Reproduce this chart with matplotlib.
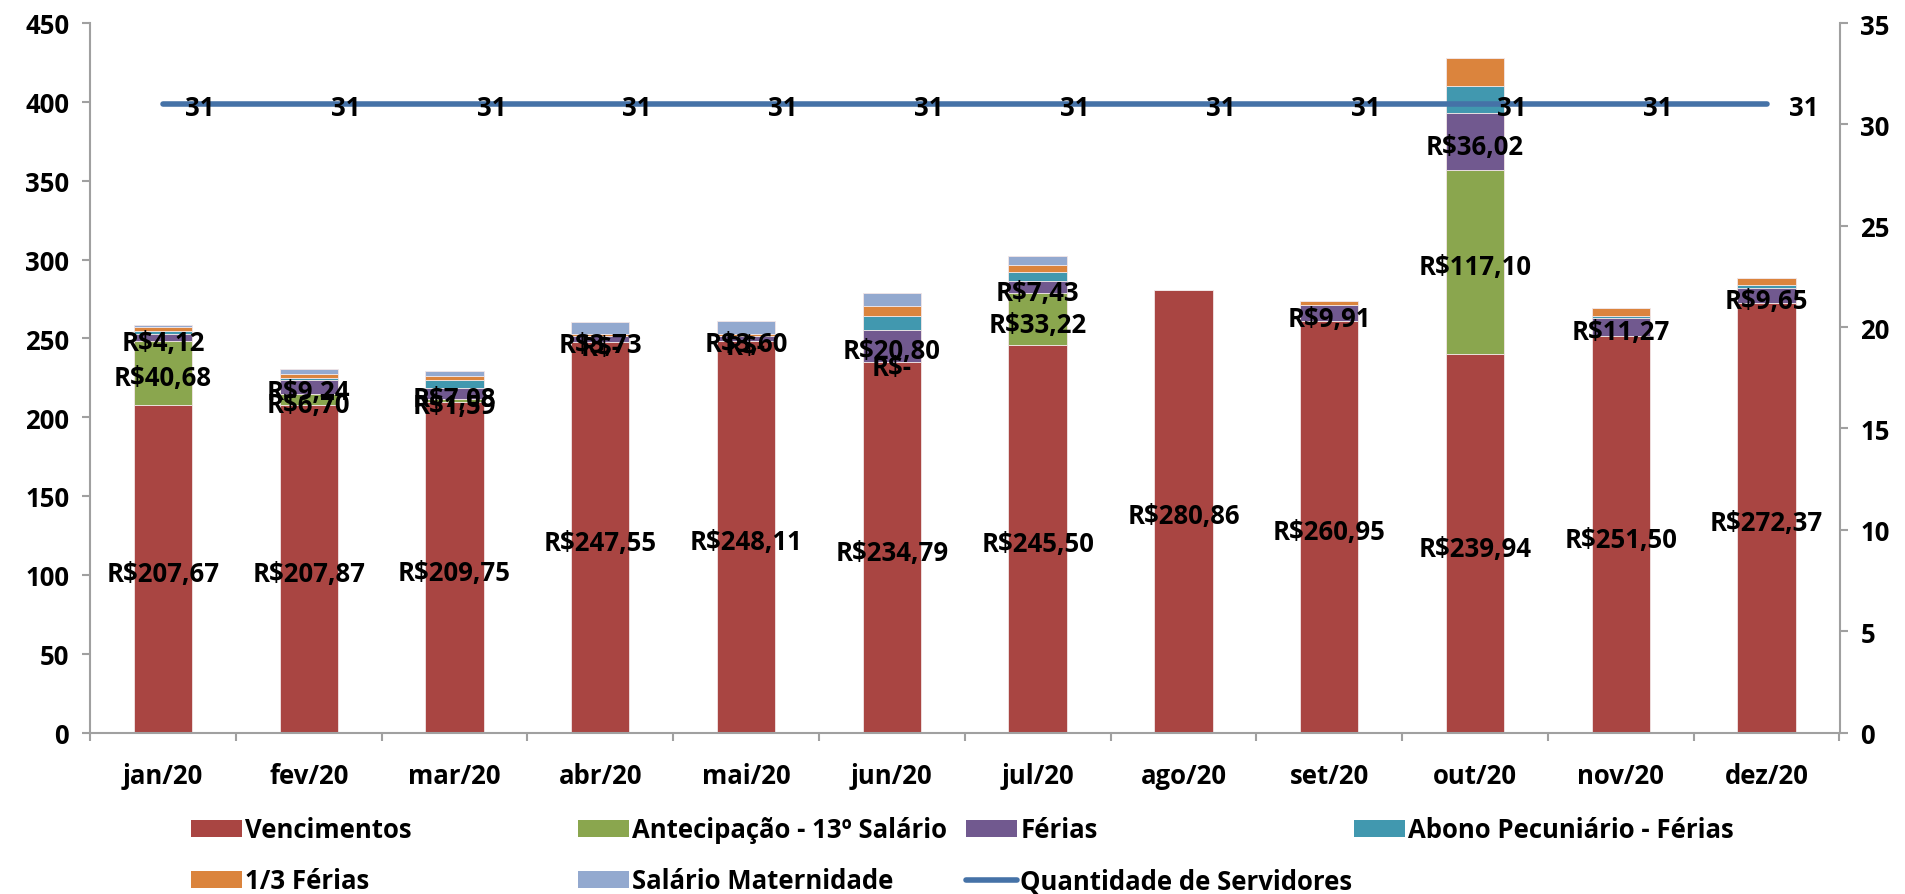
import matplotlib
matplotlib.use("Agg")
import matplotlib.pyplot as plt
from matplotlib.patches import Patch
from matplotlib.lines import Line2D
import numpy as np

plt.rcParams['font.family'] = ['Open Sans', 'DejaVu Sans']
plt.rcParams['font.weight'] = 'bold'

months = ["jan/20", "fev/20", "mar/20", "abr/20", "mai/20", "jun/20",
          "jul/20", "ago/20", "set/20", "out/20", "nov/20", "dez/20"]
vencimentos = [207.67, 207.87, 209.75, 247.55, 248.11, 234.79, 245.50, 280.86, 260.95, 239.94, 251.50, 272.37]
antecipacao = [40.68, 6.70, 1.59, 0.0, 0.0, 0.0, 33.22, None, None, 117.10, None, None]
ferias = [4.12, 9.24, 7.08, 3.73, 3.60, 20.80, 7.43, None, 9.91, 36.02, 11.27, 9.65]
abono = [2.3, 0.8, 4.9, 0.0, 0.0, 8.3, 5.7, 0.0, 0.0, 16.9, 1.7, 2.0]
um_terco = [2.2, 3.0, 2.8, 1.4, 1.3, 6.9, 4.8, 0.0, 3.1, 18.0, 4.7, 4.5]
maternidade = [1.7, 3.0, 3.3, 7.6, 7.7, 8.1, 5.3, 0.0, 0.0, 0.0, 0.0, 0.0]
servidores = [31, 31, 31, 31, 31, 31, 31, 31, 31, 31, 31, 31]

series_names = ["Vencimentos", "Antecipação - 13º Salário", "Férias",
                "Abono Pecuniário - Férias", "1/3 Férias", "Salário Maternidade"]
line_name = "Quantidade de Servidores"
colors = ["#A94542", "#8AA64E", "#71598F", "#4198AF", "#DB843D", "#93A9CF"]
line_color = "#4572A7"
labeled = [True, True, True, False, False, False]

W, H = 1905, 895
fig = plt.figure(figsize=(W / 100, H / 100), dpi=100)
ax = fig.add_axes([90 / W, 1 - 733.5 / H, (1839.5 - 90) / W, (733.5 - 24) / H])
ax2 = ax.twinx()

FS = 18.5
x = np.arange(len(months))
bottom = np.zeros(len(months))
all_series = [vencimentos, antecipacao, ferias, abono, um_terco, maternidade]


def fmt(v):
    if v == 0:
        return "R$-"
    return "R$" + f"{v:.2f}".replace(".", ",")


for s, col, lab in zip(all_series, colors, labeled):
    vals = np.array([np.nan if v is None else v for v in s], dtype=float)
    h = np.nan_to_num(vals)
    ax.bar(x, h, bottom=bottom, width=0.40, color=col, edgecolor="#F2E6E6",
           linewidth=0.6, zorder=2)
    if lab:
        for i, v in enumerate(vals):
            if np.isnan(v):
                continue
            ax.annotate(fmt(v), (x[i], bottom[i] + v / 2), xytext=(0, -3.5),
                        textcoords="offset points", ha="center", va="center",
                        fontsize=FS, fontweight="bold", color="black", zorder=5)
    bottom = bottom + h

ax2.plot(x, servidores, color=line_color, linewidth=4, solid_capstyle="round", zorder=3)
for i, v in enumerate(servidores):
    ax2.annotate(str(v), (x[i], v), xytext=(16, -2.5), textcoords="offset points",
                 ha="left", va="center", fontsize=FS, fontweight="bold", color="black")

ax.set_xlim(-0.5, len(months) - 0.5)
ax.set_ylim(0, 450)
ax.set_yticks(np.arange(0, 451, 50))
ax2.set_ylim(0, 35)
ax2.set_yticks(np.arange(0, 36, 5))

ax.set_xticks(x)
ax.set_xticklabels(months)
ax.set_xticks(np.arange(-0.5, len(months), 1.0), minor=True)
ax.tick_params(axis="x", which="major", length=0, pad=21, labelsize=FS)
ax.tick_params(axis="x", which="minor", length=6, width=1.5, color="#A0A0A0", direction="out")
ax.tick_params(axis="y", which="major", length=6, width=1.5, color="#A0A0A0", pad=9, labelsize=FS)
ax2.tick_params(axis="y", which="major", length=6, width=1.5, color="#A0A0A0", pad=9, labelsize=FS)
for lbl in ax.get_xticklabels() + ax.get_yticklabels() + ax2.get_yticklabels():
    lbl.set_fontweight("bold")

for a in (ax, ax2):
    a.spines["top"].set_visible(False)
    for sp in ("left", "right", "bottom"):
        a.spines[sp].set_color("#A0A0A0")
        a.spines[sp].set_linewidth(1.5)
ax.spines["right"].set_visible(False)
ax2.spines["left"].set_visible(False)
ax2.spines["bottom"].set_visible(False)

# legend entries placed like the reference (4 columns x 2 rows)
handles = [Patch(facecolor=c, edgecolor="none") for c in colors]
handles.append(Line2D([0], [0], color=line_color, linewidth=4, solid_capstyle="round"))
names = series_names + [line_name]
col_x = [191, 578, 966, 1354]
row_y = [831, 882]
slots = [(0, 0), (1, 0), (2, 0), (3, 0), (0, 1), (1, 1), (2, 1)]
for hnd, nm, (c, r) in zip(handles, names, slots):
    fig.legend(handles=[hnd], labels=[nm], loc="center left",
               bbox_to_anchor=(col_x[c] / W, 1 - row_y[r] / H),
               frameon=False, borderpad=0, borderaxespad=0,
               handlelength=2.0, handleheight=0.6, handletextpad=0.12,
               prop={"size": FS, "weight": "bold"})

fig.savefig("out.png", dpi=100)
